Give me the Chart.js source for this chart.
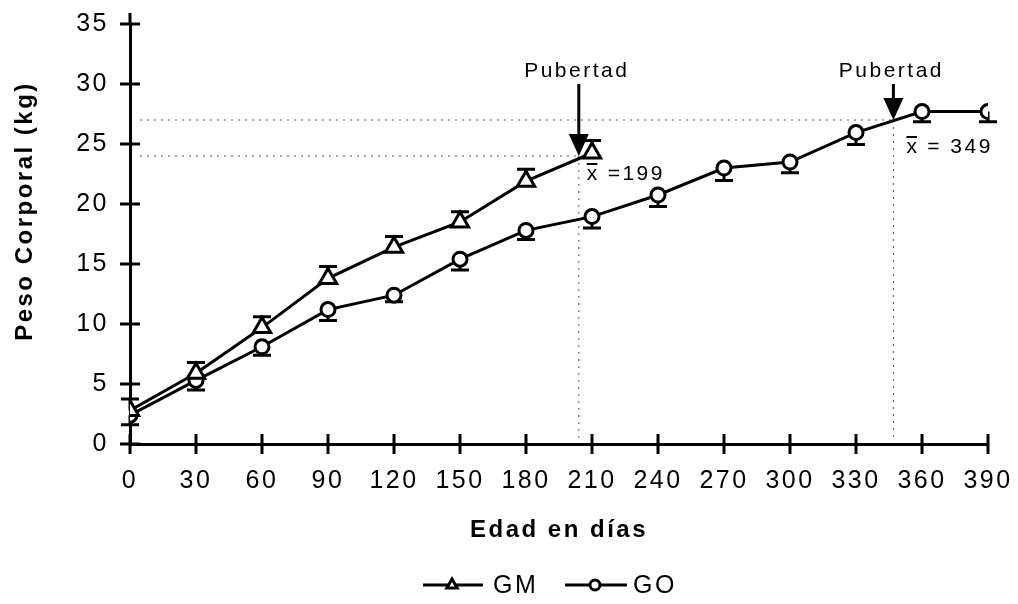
<!DOCTYPE html>
<html>
<head>
<meta charset="utf-8">
<script src="https://cdn.jsdelivr.net/npm/chart.js@4.4.1/dist/chart.umd.min.js"></script>
<style>
  html, body { margin: 0; padding: 0; background: #fff; }
  #wrap { width: 1018px; height: 604px; }
</style>
</head>
<body>
<div id="wrap"><canvas id="c"></canvas></div>
<script>
// data
const days = [0, 30, 60, 90, 120, 150, 180, 210, 240, 270, 300, 330, 360, 390];
const gmMean = [2.8, 5.9, 9.7, 13.8, 16.4, 18.5, 21.9, 24.25];
const gmSE = [0.95, 0.9, 0.9, 1.0, 0.9, 0.85, 1.0, 1.05];
const goMean = [2.4, 5.3, 8.1, 11.2, 12.4, 15.4, 17.8, 18.95, 20.75, 23.0, 23.5, 25.95, 27.7, 27.7];
const goSE = [0.8, 0.8, 0.7, 0.9, 0.55, 0.9, 0.75, 0.95, 0.95, 1.05, 0.9, 1.0, 0.85, 0.85];
const yTicks = [0, 5, 10, 15, 20, 25, 30, 35];
const pubX = [204, 347];      // where the arrows point
const pubY = [24, 27];
const pubLabels = ['199', '349'];

const FONT = "'Liberation Sans', Arial, Helvetica, sans-serif";
Chart.defaults.font.family = FONT;
Chart.defaults.color = '#000';

const spacing = '2.5px';

const extras = {
  id: 'extras',
  beforeLayout(chart) { chart.ctx.letterSpacing = spacing; },
  beforeDraw(chart) { chart.ctx.letterSpacing = spacing; },
  beforeDatasetsDraw(chart) {
    const { ctx, scales: { x, y } } = chart;
    ctx.save();
    // dotted guide lines
    ctx.setLineDash([2, 5]);
    ctx.lineWidth = 1;
    ctx.strokeStyle = '#555';
    pubX.forEach((d, i) => {
      const px = x.getPixelForValue(d), py = y.getPixelForValue(pubY[i]);
      ctx.beginPath();
      ctx.moveTo(x.left + 10, py); ctx.lineTo(px, py);
      ctx.moveTo(px, py); ctx.lineTo(px, y.bottom - 4);
      ctx.stroke();
    });
    ctx.setLineDash([]);
    // error bars: GM upward, GO downward
    ctx.lineWidth = 3;
    ctx.strokeStyle = '#000';
    const bar = (d, m, e) => {
      const px = x.getPixelForValue(d);
      const p0 = y.getPixelForValue(m), p1 = y.getPixelForValue(e);
      ctx.beginPath();
      ctx.moveTo(px, p0); ctx.lineTo(px, p1);
      ctx.moveTo(px - 9, p1); ctx.lineTo(px + 9, p1);
      ctx.stroke();
    };
    gmMean.forEach((m, i) => bar(days[i], m, m + gmSE[i]));
    goMean.forEach((m, i) => bar(days[i], m, m - goSE[i]));
    ctx.restore();
  },
  afterDatasetsDraw(chart) {
    const { ctx, scales: { x, y } } = chart;
    ctx.save();
    ctx.strokeStyle = '#000';
    ctx.fillStyle = '#000';
    ctx.lineWidth = 3;
    // cross ticks
    ctx.beginPath();
    yTicks.forEach(v => {
      const py = y.getPixelForValue(v);
      ctx.moveTo(x.left - 10, py); ctx.lineTo(x.left + 10, py);
    });
    days.forEach(v => {
      const px = x.getPixelForValue(v);
      ctx.moveTo(px, y.bottom - 10); ctx.lineTo(px, y.bottom + 10);
    });
    ctx.moveTo(x.left, y.top); ctx.lineTo(x.left, y.top - 11);
    ctx.stroke();

    // y axis title (sits above the centre in the original)
    ctx.save();
    ctx.translate(25, 211);
    ctx.rotate(-Math.PI / 2);
    ctx.font = 'bold 24px ' + FONT;
    ctx.textAlign = 'center';
    ctx.textBaseline = 'middle';
    ctx.fillText('Peso Corporal (kg)', 0, 0);
    ctx.restore();

    // puberty arrows and labels
    pubX.forEach((d, i) => {
      const px = x.getPixelForValue(d), py = y.getPixelForValue(pubY[i]);
      ctx.lineWidth = 3;
      ctx.beginPath();
      ctx.moveTo(px, 84); ctx.lineTo(px, py - 20);
      ctx.stroke();
      ctx.beginPath();
      ctx.moveTo(px - 10, py - 22); ctx.lineTo(px + 10, py - 22); ctx.lineTo(px, py);
      ctx.closePath();
      ctx.fill();

      ctx.font = '21px ' + FONT;
      ctx.textAlign = 'center';
      ctx.textBaseline = 'middle';
      ctx.fillText('Pubertad', px - 2, 71);

      // x-bar label
      const lx = px + (i === 0 ? 8 : 13), ly = py + (i === 0 ? 18 : 27);
      ctx.font = '21px ' + FONT;
      ctx.textAlign = 'left';
      ctx.fillText('x', lx, ly);
      const w = ctx.measureText('x').width - 2.5;
      ctx.lineWidth = 2;
      ctx.beginPath();
      ctx.moveTo(lx, ly - 10); ctx.lineTo(lx + w, ly - 10);
      ctx.stroke();
      ctx.fillText((i === 0 ? ' =' : ' = ') + pubLabels[i], lx + w + 2, ly);
    });

    // legend
    const ly = 585;
    ctx.lineWidth = 3;
    ctx.beginPath();
    ctx.moveTo(423, ly); ctx.lineTo(483, ly);
    ctx.moveTo(565, ly); ctx.lineTo(627, ly);
    ctx.stroke();
    ctx.fillStyle = '#fff';
    Chart.helpers.drawPoint(ctx, { pointStyle: 'triangle', radius: 6, borderWidth: 2.5 }, 452, ly);
    Chart.helpers.drawPoint(ctx, { pointStyle: 'circle', radius: 5, borderWidth: 2.5 }, 595, ly);
    ctx.fillStyle = '#000';
    ctx.font = '25px ' + FONT;
    ctx.textAlign = 'left';
    ctx.textBaseline = 'middle';
    ctx.fillText('GM', 493, ly + 1);
    ctx.fillText('GO', 633, ly + 1);
    ctx.restore();
  }
};

new Chart(document.getElementById('c'), {
  type: 'line',
  data: {
    datasets: [
      {
        label: 'GM',
        data: gmMean.map((v, i) => ({ x: days[i], y: v })),
        borderColor: '#000',
        borderWidth: 3,
        pointStyle: 'triangle',
        pointRadius: 10,
        pointBorderWidth: 3,
        pointBackgroundColor: '#fff',
        pointBorderColor: '#000',
        tension: 0
      },
      {
        label: 'GO',
        data: goMean.map((v, i) => ({ x: days[i], y: v })),
        borderColor: '#000',
        borderWidth: 3,
        pointStyle: 'circle',
        pointRadius: 7,
        pointBorderWidth: 3,
        pointBackgroundColor: '#fff',
        pointBorderColor: '#000',
        tension: 0
      }
    ]
  },
  options: {
    responsive: true,
    maintainAspectRatio: false,
    animation: false,
    layout: { padding: { top: 24, right: 30, bottom: 0, left: 0 } },
    plugins: { legend: { display: false }, tooltip: { enabled: false } },
    scales: {
      x: {
        type: 'linear',
        min: 0, max: 390,
        grid: { display: false, drawTicks: false },
        border: { display: true, color: '#000', width: 3 },
        ticks: { stepSize: 30, padding: 22, font: { size: 25 }, maxRotation: 0, autoSkip: false },
        title: { display: true, text: 'Edad en días', font: { size: 24, weight: 'bold' }, padding: { top: 0, bottom: 59 } },
        afterFit(s) { s.height = 160; s.paddingLeft = 0; s.paddingRight = 0; }
      },
      y: {
        min: 0, max: 35,
        grid: { display: false, drawTicks: false },
        border: { display: true, color: '#000', width: 3 },
        ticks: { stepSize: 5, padding: 21, font: { size: 25 } },
        title: { display: false },
        afterFit(s) { s.width = 130; s.paddingTop = 0; s.paddingBottom = 0; }
      }
    }
  },
  plugins: [extras]
});
</script>
</body>
</html>
